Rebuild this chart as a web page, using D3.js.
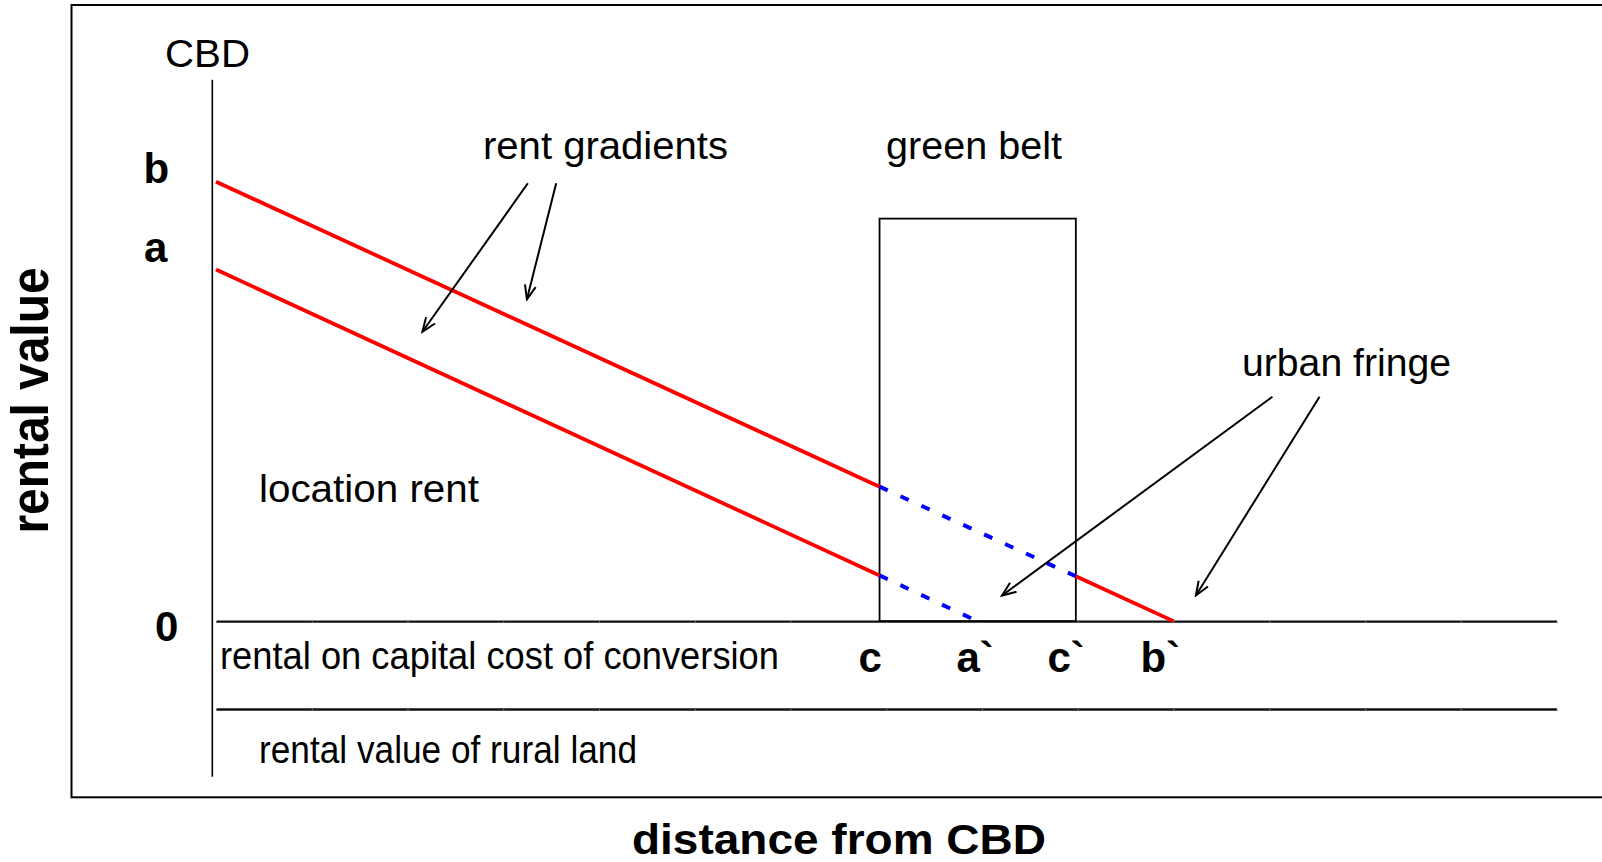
<!DOCTYPE html>
<html><head><meta charset="utf-8">
<script src="https://cdn.jsdelivr.net/npm/d3@7"></script>
<style>
html,body{margin:0;padding:0;background:#fff;}
svg{display:block;}
text{font-family:"Liberation Sans",Arial,Helvetica,sans-serif;fill:#000;}
</style>
</head><body>
<svg id="chart" width="1602" height="862"></svg>
<script>
// ---------- data (distance units from CBD, rent units) ----------
const distanceTicks = [0,1,2,3,4,5,6,7,8,9,10,11,12,13,14];
const baseLevels = [0, -1];                 // zero rent line, rural-land rental line
const greenBeltX = [6.93, 8.98];            // c .. c`
const greenBeltTop = 4.58;
const gradientBX = [0, 6.93, 8.98, 10];     // b -> b`
const gradientBY = [5, 1.53, 0.51, 0];
const gradientBStyle = ["solid", "dashed", "solid"];
const gradientAX = [0, 6.93, 7.95];         // a -> a`
const gradientAY = [4, 0.52, 0];
const gradientAStyle = ["solid", "dashed"];
const cbdAxisY = [-1.77, 6.16];
const yLabels = ["b", "a", "0"];
const xLabels = ["c", "a`", "c`", "b`"];
const areaLabels = ["location rent", "rental on capital cost of conversion", "rental value of rural land"];
const calloutLabels = ["rent gradients", "green belt", "urban fringe"];
// arrows: [fromX, fromY, toX, toY] in data units
const rentGradientArrows = [[3.257, 4.982, 2.156, 3.293], [3.553, 4.982, 3.247, 3.662]];
const urbanFringeArrows = [[11.033, 2.553, 8.209, 0.291], [11.525, 2.553, 10.234, 0.291]];

// ---------- layout ----------
const svg = d3.select("#chart");
const x = d3.scaleLinear().domain([0, 14]).range([216, 1556.5]);
const y = d3.scaleLinear().domain([-1, 5]).range([709, 181.7]);

// outer frame
svg.append("rect").attr("x", 71.5).attr("y", 5).attr("width", 1600).attr("height", 792.3)
  .attr("fill", "none").attr("stroke", "#000").attr("stroke-width", 2);

// arrow marker
svg.append("defs").append("marker").attr("id", "arr")
  .attr("markerUnits", "userSpaceOnUse").attr("viewBox", "-16 -8 18 16")
  .attr("refX", 0).attr("refY", 0).attr("markerWidth", 18).attr("markerHeight", 16)
  .attr("orient", "auto")
  .append("path").attr("d", "M-14,-5.5 L0,0 L-14,5.5").attr("fill", "none")
  .attr("stroke", "#000").attr("stroke-width", 2);

// horizontal base lines as axes
baseLevels.forEach(v => {
  const g = svg.append("g").attr("transform", `translate(0,${y(v)})`)
    .call(d3.axisBottom(x).tickValues(distanceTicks).tickSizeInner(2).tickSizeOuter(0).tickFormat(""));
  g.select(".domain").attr("stroke", "#111").attr("stroke-width", 2.4);
  g.selectAll(".tick line").attr("stroke", "#777").attr("stroke-width", 1);
});

// CBD vertical axis
svg.append("line").attr("x1", 212.3).attr("x2", 212.3)
  .attr("y1", y(cbdAxisY[1])).attr("y2", y(cbdAxisY[0]))
  .attr("stroke", "#000").attr("stroke-width", 1.6);

// green belt rectangle
svg.append("rect").attr("x", x(greenBeltX[0])).attr("y", y(greenBeltTop))
  .attr("width", x(greenBeltX[1]) - x(greenBeltX[0])).attr("height", y(0) - y(greenBeltTop))
  .attr("fill", "none").attr("stroke", "#000").attr("stroke-width", 1.8);

// rent gradients
function drawGradient(xs, ys, styles) {
  styles.forEach((s, i) => {
    const seg = [[xs[i], ys[i]], [xs[i + 1], ys[i + 1]]];
    const p = svg.append("path")
      .attr("d", d3.line().x(d => x(d[0])).y(d => y(d[1]))(seg))
      .attr("fill", "none");
    if (s === "solid") p.attr("stroke", "#ff0000").attr("stroke-width", 3.8);
    else p.attr("stroke", "#0000ff").attr("stroke-width", 4).attr("stroke-dasharray", "9,14");
  });
}
drawGradient(gradientBX, gradientBY, gradientBStyle);
drawGradient(gradientAX, gradientAY, gradientAStyle);

// arrows
rentGradientArrows.concat(urbanFringeArrows).forEach(a => {
  svg.append("line").attr("x1", x(a[0])).attr("y1", y(a[1])).attr("x2", x(a[2])).attr("y2", y(a[3]))
    .attr("stroke", "#000").attr("stroke-width", 2).attr("marker-end", "url(#arr)");
});

// text helper
function label(t, px, py, size, weight, len, anchor) {
  const el = svg.append("text").attr("x", px).attr("y", py).text(t)
    .attr("font-size", size).attr("font-weight", weight || "normal")
    .attr("text-anchor", anchor || "start");
  if (len) el.attr("textLength", len).attr("lengthAdjust", "spacingAndGlyphs");
  return el;
}

// CBD
label("CBD", 165, 66.7, 39, "normal", 85);
// callouts
const calloutPos = [[483, 159.3, 245], [886, 159.3, 176], [1242, 376, 209]];
calloutLabels.forEach((t, i) => label(t, calloutPos[i][0], calloutPos[i][1], 38, "normal", calloutPos[i][2]));
// area labels
const areaPos = [[259, 501.7, 220], [220, 668.5, 559], [259, 763.3, 378]];
areaLabels.forEach((t, i) => label(t, areaPos[i][0], areaPos[i][1], 38, "normal", areaPos[i][2]));
// y labels
const yLabelPos = [[143.5, 183.3], [144, 261.7], [155, 640.7]];
yLabels.forEach((t, i) => label(t, yLabelPos[i][0], yLabelPos[i][1], 42, "bold"));
// x labels
const xLabelPos = [[858.5, 672], [956.5, 672], [1047.5, 672], [1140.5, 672]];
xLabels.forEach((t, i) => label(t, xLabelPos[i][0], xLabelPos[i][1], 42, "bold"));

// axis titles
label("distance from CBD", 839, 854, 43, "bold", 414, "middle");
svg.append("text").attr("transform", "translate(48,400.5) rotate(-90)")
  .attr("text-anchor", "middle").attr("font-size", 51).attr("font-weight", "bold")
  .attr("textLength", 266).attr("lengthAdjust", "spacingAndGlyphs").text("rental value");
</script>
</body></html>
